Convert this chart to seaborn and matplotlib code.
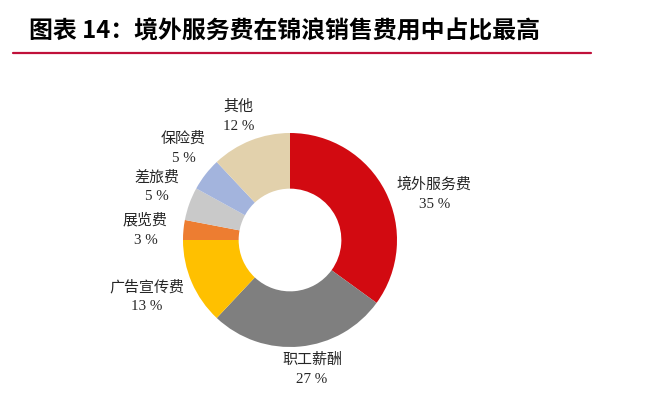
import numpy as np
import matplotlib
matplotlib.use("Agg")
import matplotlib.pyplot as plt
import seaborn as sns
from matplotlib.lines import Line2D

sns.set_theme(style="white")
plt.rcParams['font.family'] = ['Noto Sans CJK SC', 'DejaVu Sans']

# ---- data ----
title = "图表 14：境外服务费在锦浪销售费用中占比最高"
categories = ['境外服务费', '职工薪酬', '广告宣传费', '展览费', '差旅费', '保险费', '其他']
values = [35, 27, 13, 3, 5, 5, 12]
colors = ['#D20A11', '#7F7F7F', '#FFC000', '#ED7D31', '#C9C9C9', '#A3B4DD', '#E2D1AC']

# ---- layout (label offsets from wedge edge, pixels) ----
label_offsets = [(49, -3), (12, -23), (-45, -14), (-38, 0), (-32, 17), (-22, 26), (-12, 24)]

W, H, DPI = 647, 393, 100
cx, cy, R = 290, 240, 107  # pixel center (from top) and radius

fig = plt.figure(figsize=(W / DPI, H / DPI), dpi=DPI)
ax = fig.add_axes([0, 0, 1, 1])
palette = sns.color_palette(colors)
wedges, _ = ax.pie(values, colors=palette, startangle=90, counterclock=False,
                   radius=1, wedgeprops=dict(width=0.52, linewidth=0))
ax.set_aspect('auto')
ax.set_xlim(-cx / R, (W - cx) / R)
ax.set_ylim(-(H - cy) / R, cy / R)
ax.axis('off')

for w, name, v, (dx, dy) in zip(wedges, categories, values, label_offsets):
    ang = np.deg2rad((w.theta1 + w.theta2) / 2)
    x, y = np.cos(ang), np.sin(ang)
    ax.annotate(f"{name}\n{v} %", xy=(x, y), xytext=(dx, dy), textcoords='offset pixels',
                ha='center', va='center', fontsize=10.8, color='#262626', linespacing=1.6,
                family=['Liberation Serif', 'Noto Sans CJK SC'], annotation_clip=False)

fig.text(29 / W, 1 - 32 / H, title, fontsize=17.2, fontweight='bold', color='black',
         ha='left', va='center', family=['Noto Sans CJK SC', 'DejaVu Sans'])
fig.add_artist(Line2D([13 / W, 591 / W], [1 - 52.5 / H, 1 - 52.5 / H],
                      transform=fig.transFigure, color='#C0103A', linewidth=1.6))

fig.savefig("out.png", dpi=DPI)
